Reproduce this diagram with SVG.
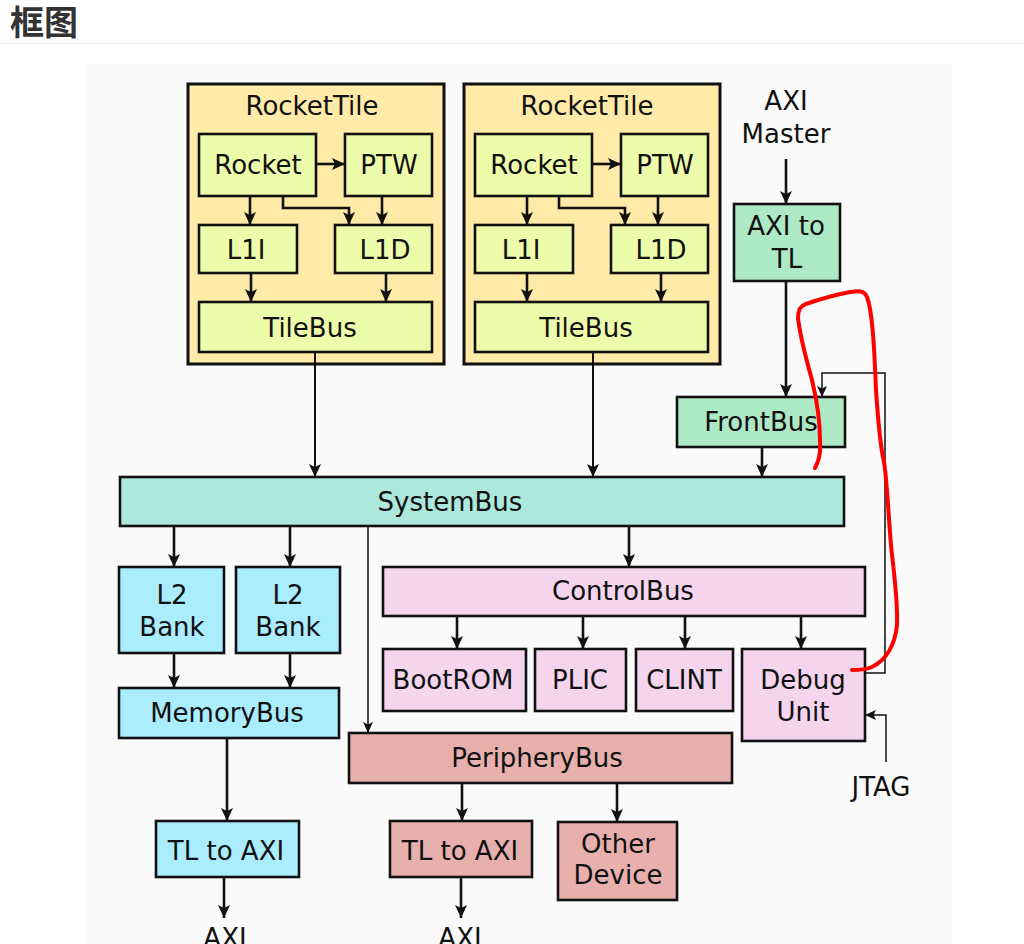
<svg xmlns="http://www.w3.org/2000/svg" width="1024" height="944" viewBox="0 0 1024 944">
<defs>
<style>
.t{font-family:"DejaVu Sans","Liberation Sans",sans-serif;font-size:26px;fill:#111;text-anchor:middle}
.box{stroke:#111;stroke-width:2.6}
.tile{fill:#ffeaa8;stroke:#111;stroke-width:3}
.core{fill:#edfcaa}
.green{fill:#aee9c6}
.sys{fill:#ade8dc}
.blue{fill:#aaedfe}
.pink{fill:#f5d5ee}
.salmon{fill:#e8b0ad}
.c{fill:none;stroke:#111;stroke-width:2.6;marker-end:url(#ah)}
.cm{fill:none;stroke:#111;stroke-width:2;marker-end:url(#ah)}
.ct{fill:none;stroke:#111;stroke-width:1.5;marker-end:url(#ahs)}
</style>
<marker id="ah" markerUnits="userSpaceOnUse" markerWidth="14" markerHeight="13" refX="13" refY="6" orient="auto">
<path d="M0,0 L13,6 L0,12 L3,6 z" fill="#111"/>
</marker>
<marker id="ahs" markerUnits="userSpaceOnUse" markerWidth="12" markerHeight="11" refX="11" refY="5" orient="auto">
<path d="M0,0 L11,5 L0,10 L2.5,5 z" fill="#111"/>
</marker>
</defs>
<rect width="1024" height="944" fill="#ffffff"/>
<text x="10" y="35" font-family="Noto Sans CJK SC, sans-serif" font-size="34" font-weight="bold" fill="#333">框图</text>
<line x1="0" y1="43.5" x2="1024" y2="43.5" stroke="#e6e6e6" stroke-width="1"/>
<rect x="87" y="64" width="865" height="880" fill="#fafafa"/>

<g id="tile1">
<rect class="tile" x="188" y="84" width="256" height="280"/>
<text class="t" x="312" y="115">RocketTile</text>
<g id="rocket1"><rect class="box core" x="199" y="134" width="117" height="62"/><text class="t" x="258" y="174">Rocket</text></g>
<g id="ptw1"><rect class="box core" x="345" y="134" width="87" height="62"/><text class="t" x="389" y="174">PTW</text></g>
<g id="l1i1"><rect class="box core" x="199" y="225" width="98" height="48"/><text class="t" x="246" y="259">L1I</text></g>
<g id="l1d1"><rect class="box core" x="335" y="225" width="97" height="48"/><text class="t" x="385" y="259">L1D</text></g>
<g id="tilebus1"><rect class="box core" x="199" y="302" width="233" height="50"/><text class="t" x="310" y="337">TileBus</text></g>
</g>

<g id="tile2">
<rect class="tile" x="464" y="84" width="256" height="280"/>
<text class="t" x="587" y="115">RocketTile</text>
<g id="rocket2"><rect class="box core" x="475" y="134" width="117" height="62"/><text class="t" x="534" y="174">Rocket</text></g>
<g id="ptw2"><rect class="box core" x="621" y="134" width="87" height="62"/><text class="t" x="665" y="174">PTW</text></g>
<g id="l1i2"><rect class="box core" x="475" y="225" width="98" height="48"/><text class="t" x="521" y="259">L1I</text></g>
<g id="l1d2"><rect class="box core" x="611" y="225" width="97" height="48"/><text class="t" x="661" y="259">L1D</text></g>
<g id="tilebus2"><rect class="box core" x="475" y="302" width="233" height="50"/><text class="t" x="586" y="337">TileBus</text></g>
</g>

<g id="axi-master"><text class="t" x="786" y="110">AXI</text><text class="t" x="786" y="143">Master</text></g>
<g id="axi-to-tl"><rect class="box green" x="734" y="204" width="106" height="77"/><text class="t" x="786" y="235">AXI to</text><text class="t" x="787" y="268">TL</text></g>
<g id="frontbus"><rect class="box green" x="677" y="397" width="168" height="50"/><text class="t" x="761" y="431">FrontBus</text></g>
<g id="systembus"><rect class="box sys" x="120" y="477" width="724" height="49"/><text class="t" x="450" y="511">SystemBus</text></g>
<g id="l2bank1"><rect class="box blue" x="119" y="567" width="105" height="86"/><text class="t" x="172" y="604">L2</text><text class="t" x="172" y="636">Bank</text></g>
<g id="l2bank2"><rect class="box blue" x="236" y="567" width="104" height="86"/><text class="t" x="288" y="604">L2</text><text class="t" x="288" y="636">Bank</text></g>
<g id="memorybus"><rect class="box blue" x="119" y="688" width="220" height="50"/><text class="t" x="227" y="722">MemoryBus</text></g>
<g id="tl-to-axi-mem"><rect class="box blue" x="156" y="821" width="143" height="56"/><text class="t" x="226" y="860">TL to AXI</text></g>
<g id="axi-out-mem"><text class="t" x="225" y="947">AXI</text></g>
<g id="controlbus"><rect class="box pink" x="383" y="567" width="482" height="49"/><text class="t" x="623" y="600">ControlBus</text></g>
<g id="bootrom"><rect class="box pink" x="383" y="649" width="143" height="62"/><text class="t" x="453" y="689">BootROM</text></g>
<g id="plic"><rect class="box pink" x="535" y="649" width="91" height="62"/><text class="t" x="580" y="689">PLIC</text></g>
<g id="clint"><rect class="box pink" x="636" y="649" width="97" height="62"/><text class="t" x="684" y="689">CLINT</text></g>
<g id="debug"><rect class="box pink" x="742" y="649" width="123" height="92"/><text class="t" x="803" y="689">Debug</text><text class="t" x="803" y="721">Unit</text></g>
<g id="jtag"><text class="t" x="881" y="796">JTAG</text></g>
<g id="peripherybus"><rect class="box salmon" x="349" y="733" width="383" height="50"/><text class="t" x="537" y="767">PeripheryBus</text></g>
<g id="tl-to-axi-per"><rect class="box salmon" x="390" y="821" width="142" height="56"/><text class="t" x="460" y="860">TL to AXI</text></g>
<g id="axi-out-per"><text class="t" x="460" y="947">AXI</text></g>
<g id="other-device"><rect class="box salmon" x="558" y="822" width="119" height="78"/><text class="t" x="618" y="853">Other</text><text class="t" x="618" y="884">Device</text></g>

<g id="connectors">
<path class="c" d="M316,164 H345"/>
<path class="c" d="M250,196 V225"/>
<path class="c" d="M283,196 V208 H349 V225"/>
<path class="c" d="M382,196 V225"/>
<path class="c" d="M251,273 V302"/>
<path class="c" d="M386,273 V302"/>
<path class="c" d="M592,164 H621"/>
<path class="c" d="M527,196 V225"/>
<path class="c" d="M559,196 V208 H625 V225"/>
<path class="c" d="M658,196 V225"/>
<path class="c" d="M527,273 V302"/>
<path class="c" d="M661,273 V302"/>
<path class="cm" d="M315,352 V477"/>
<path class="cm" d="M593,352 V477"/>
<path class="c" d="M786,159 V204"/>
<path class="c" d="M786,281 V397"/>
<path class="c" d="M762,447 V477"/>
<path class="ct" d="M865,673 H885 V373 H822 V397"/>
<path class="c" d="M174,526 V567"/>
<path class="c" d="M290,526 V567"/>
<path class="c" d="M629,526 V567"/>
<path class="ct" d="M368,526 V733"/>
<path class="c" d="M457,616 V649"/>
<path class="c" d="M583,616 V649"/>
<path class="c" d="M685,616 V649"/>
<path class="c" d="M801,616 V649"/>
<path class="c" d="M174,653 V688"/>
<path class="c" d="M290,653 V688"/>
<path class="c" d="M227,738 V821"/>
<path class="c" d="M224,877 V918"/>
<path class="c" d="M462,783 V821"/>
<path class="c" d="M461,877 V918"/>
<path class="c" d="M617,783 V822"/>
<path class="ct" d="M886,762 V715 H865"/>
</g>

<path id="red-annotation" d="M815,468 C818,462 821,456 820,440 C820,425 818,405 812,380 C805,355 800,335 798,318 C798,310 800,306 806,304 C820,299 835,295 850,292 C858,291 864,290 867,297 C872,310 874,340 876,390 C878,420 880,445 884,462 C887,480 888,510 891,545 C894,575 898,600 897,625 C895,645 886,660 872,667 C865,670 858,670 852,670" fill="none" stroke="#ff0000" stroke-width="4" stroke-linecap="round" stroke-linejoin="round"/>
</svg>
